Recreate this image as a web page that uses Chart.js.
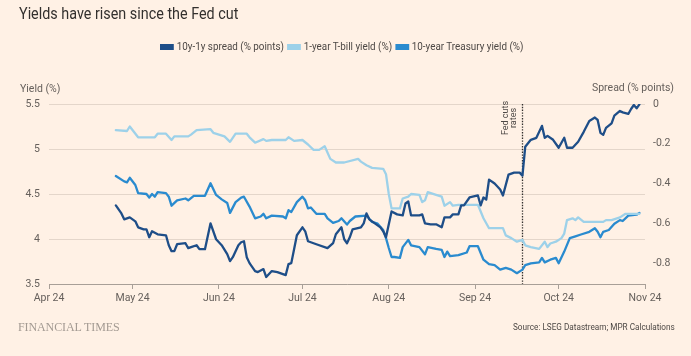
<!DOCTYPE html>
<html><head><meta charset="utf-8">
<script src="https://cdn.jsdelivr.net/npm/chart.js@4.4.1/dist/chart.umd.min.js"></script>
<style>
html,body{margin:0;padding:0;background:#fff1e5;width:691px;height:356px;overflow:hidden;}
body{position:relative;font-family:'Roboto',sans-serif;}
#c{position:absolute;left:0;top:0;}
.t{position:absolute;white-space:nowrap;line-height:1;}
#title{left:19px;top:5px;font-size:17px;color:#33302e;transform:scaleX(0.845);transform-origin:0 0;}
#legend{position:absolute;left:160px;top:42px;font-size:10px;color:#4d4845;display:flex;align-items:center;white-space:nowrap;line-height:1;transform:scaleX(0.985);transform-origin:0 0;}
.li{display:flex;align-items:center;margin-right:3px;}
.sw{display:inline-block;width:14px;height:6px;margin-right:3px;}
#yl{left:20px;top:84px;font-size:10.5px;color:#66605c;}
#yr{right:17px;top:83px;font-size:10.5px;color:#66605c;}
#ft{left:18px;top:321px;font-size:12px;color:#a39a92;font-family:'Liberation Serif','DejaVu Serif',serif;letter-spacing:-0.1px;}
#src{right:16px;top:323px;font-size:9px;color:#4d4845;transform:scaleX(0.91);transform-origin:100% 0;}
</style></head>
<body>
<canvas id="c" width="691" height="356"></canvas>
<div class="t" id="title">Yields have risen since the Fed cut</div>
<div id="legend"></div>
<div class="t" id="yl">Yield (%)</div>
<div class="t" id="yr">Spread (% points)</div>
<div class="t" id="ft">FINANCIAL TIMES</div>
<div class="t" id="src">Source: LSEG Datastream; MPR Calculations</div>
<script>
// x values are days since 1 April 2024
const monthTickDays = [0,30,61,91,122,153,183,214];
const monthLabels = ['Apr 24','May 24','Jun 24','Jul 24','Aug 24','Sep 24','Oct 24','Nov 24'];
const yieldTicks = [3.5,4,4.5,5,5.5];
const spreadTicks = [0,-0.2,-0.4,-0.6,-0.8];
const fedCutDay = 170; // 18 Sep 2024

const seriesNames = ['10y-1y spread (% points)','1-year T-bill yield (%)','10-year Treasury yield (%)'];

const spreadDays = [24,26,27,29,30,31,32,34,35,36,37,39,42,43,44,45,46,49,50,51,53,54,56,58,60,62,64,65,66,68,69,70,71,72,74,75,77,78,80,82,85,86,87,88,89,91,92,93,96,100,102,103,105,106,107,108,109,112,113,114,115,117,119,120,121,123,125,127,128,129,130,133,134,135,137,139,141,142,144,145,147,148,149,151,154,155,156,157,158,160,162,163,165,167,169,170,171,173,175,177,178,179,181,183,185,186,188,190,192,194,196,197,198,199,200,202,203,205,206,208,209,210,211,212];
const spreadVals = [-0.51,-0.55,-0.58,-0.57,-0.58,-0.59,-0.62,-0.63,-0.63,-0.67,-0.64,-0.655,-0.66,-0.71,-0.74,-0.74,-0.705,-0.70,-0.725,-0.72,-0.71,-0.73,-0.73,-0.60,-0.68,-0.71,-0.755,-0.79,-0.77,-0.71,-0.695,-0.69,-0.77,-0.80,-0.84,-0.845,-0.83,-0.87,-0.84,-0.845,-0.86,-0.805,-0.80,-0.73,-0.66,-0.62,-0.64,-0.69,-0.705,-0.725,-0.70,-0.655,-0.62,-0.68,-0.70,-0.67,-0.63,-0.62,-0.60,-0.55,-0.58,-0.60,-0.62,-0.64,-0.67,-0.54,-0.555,-0.56,-0.50,-0.49,-0.56,-0.56,-0.555,-0.60,-0.605,-0.605,-0.62,-0.57,-0.57,-0.555,-0.555,-0.51,-0.51,-0.47,-0.46,-0.51,-0.47,-0.48,-0.38,-0.40,-0.43,-0.46,-0.355,-0.345,-0.345,-0.36,-0.215,-0.18,-0.17,-0.11,-0.17,-0.16,-0.18,-0.22,-0.17,-0.22,-0.22,-0.19,-0.14,-0.085,-0.068,-0.08,-0.145,-0.155,-0.12,-0.097,-0.058,-0.035,-0.042,-0.05,-0.025,-0.005,-0.022,-0.002];

const billDays = [24,28,29,32,36,38,39,42,44,45,50,51,53,58,59,63,65,67,71,72,74,77,78,80,85,86,88,91,93,95,97,99,101,103,106,111,112,114,116,120,121,122,123,126,127,129,130,133,134,135,136,139,141,142,144,145,147,154,156,158,160,163,164,166,168,170,171,173,176,178,179,180,182,184,185,186,188,189,190,192,196,199,200,202,205,207,209,212];
const billVals = [5.21,5.20,5.25,5.13,5.13,5.13,5.17,5.17,5.10,5.14,5.14,5.16,5.21,5.22,5.18,5.14,5.08,5.17,5.17,5.13,5.07,5.11,5.09,5.10,5.10,5.13,5.09,5.10,5.05,4.99,4.99,5.03,4.89,4.85,4.85,4.89,4.86,4.82,4.79,4.78,4.72,4.50,4.34,4.34,4.45,4.47,4.50,4.49,4.41,4.43,4.52,4.49,4.47,4.37,4.41,4.37,4.38,4.38,4.23,4.12,4.12,4.12,4.04,4.01,3.97,3.99,3.93,3.91,3.89,3.97,3.91,3.95,3.97,4.01,4.06,4.21,4.23,4.21,4.24,4.19,4.19,4.19,4.21,4.21,4.24,4.28,4.28,4.28];

const tsyDays = [24,27,28,29,31,32,35,36,37,38,39,42,43,44,46,49,50,52,56,58,60,62,64,65,67,69,70,72,74,76,77,78,80,84,85,86,87,89,91,92,93,94,96,99,100,102,104,105,107,108,110,114,116,118,120,121,122,123,124,126,127,129,130,133,135,136,139,141,142,143,144,147,150,151,154,156,158,160,162,164,166,168,170,171,173,176,177,178,180,182,183,185,187,189,191,194,196,197,198,199,201,203,205,206,208,211,212];
const tsyVals = [4.70,4.64,4.63,4.68,4.60,4.51,4.50,4.46,4.50,4.47,4.52,4.51,4.47,4.37,4.43,4.45,4.43,4.48,4.48,4.62,4.49,4.44,4.40,4.29,4.41,4.46,4.47,4.36,4.23,4.25,4.28,4.23,4.26,4.25,4.23,4.32,4.30,4.41,4.47,4.43,4.34,4.35,4.28,4.28,4.23,4.18,4.20,4.23,4.16,4.20,4.25,4.26,4.19,4.17,4.10,4.01,3.90,3.80,3.80,3.79,3.91,3.99,3.93,3.91,3.83,3.91,3.89,3.88,3.80,3.86,3.81,3.82,3.85,3.92,3.92,3.77,3.72,3.71,3.66,3.68,3.66,3.62,3.66,3.71,3.73,3.74,3.79,3.74,3.77,3.79,3.73,3.86,4.01,4.03,4.05,4.08,4.12,4.08,4.02,4.08,4.10,4.17,4.21,4.20,4.26,4.27,4.29];

const colors = ['#1e4e88','#9dd1e9','#2a8bcf'];
const FONT = "Roboto, sans-serif";

// HTML legend
const lg = document.getElementById('legend');
seriesNames.forEach((n,i)=>{
  const d=document.createElement('span'); d.className='li';
  d.innerHTML='<span class="sw" style="background:'+colors[i]+'"></span>'+n;
  lg.appendChild(d);
});

const pts = (xs,ys)=>xs.map((x,i)=>({x:x,y:ys[i]}));

const fedLine = {
  id:'fedLine',
  beforeDatasetsDraw(chart){
    const {ctx, chartArea:{top,bottom}, scales:{x}} = chart;
    const px = Math.round(x.getPixelForValue(fedCutDay))+0.5;
    ctx.save();
    ctx.strokeStyle='#33302e'; ctx.lineWidth=1.3; ctx.setLineDash([1.4,1.4]);
    ctx.beginPath(); ctx.moveTo(px, top); ctx.lineTo(px, bottom); ctx.stroke();
    ctx.setLineDash([]);
    ctx.translate(px, top+14);
    ctx.rotate(-Math.PI/2);
    ctx.fillStyle='#4d4845'; ctx.font='9px '+FONT;
    ctx.textAlign='center'; ctx.textBaseline='middle';
    ctx.fillText('Fed cuts', 0, -17);
    ctx.fillText('rates', 0, -8.5);
    ctx.restore();
  }
};

const ds = (label,data,color,axis)=>({label,data,borderColor:color,backgroundColor:color,borderWidth:2.3,pointRadius:0,tension:0,yAxisID:axis,borderJoinStyle:'round',borderCapStyle:'round'});

new Chart(document.getElementById('c'),{
  type:'line',
  data:{datasets:[
    ds(seriesNames[0],pts(spreadDays,spreadVals),colors[0],'y2'),
    ds(seriesNames[1],pts(billDays,billVals),colors[1],'y'),
    ds(seriesNames[2],pts(tsyDays,tsyVals),colors[2],'y')
  ]},
  options:{
    responsive:false, animation:false, devicePixelRatio:1,
    layout:{padding:{top:104,left:0,right:0,bottom:0}},
    plugins:{legend:{display:false},tooltip:{enabled:false},title:{display:false}},
    scales:{
      x:{type:'linear',min:0,max:214,
        afterBuildTicks:s=>{s.ticks=monthTickDays.map(v=>({value:v}));},
        afterFit:s=>{s.height=72;},
        ticks:{autoSkip:false,maxRotation:0,padding:3,color:'#66605c',font:{family:FONT,size:10.5},
          callback:v=>monthLabels[monthTickDays.indexOf(v)]},
        grid:{drawOnChartArea:false,drawTicks:true,tickLength:5,color:'#a89f97',lineWidth:1},
        border:{display:true,color:'#a89f97',width:1}
      },
      y:{position:'left',min:3.5,max:5.5,
        afterBuildTicks:s=>{s.ticks=yieldTicks.map(v=>({value:v}));},
        afterFit:s=>{s.width=49;},
        ticks:{padding:9,color:'#66605c',font:{family:FONT,size:10.5},callback:v=>String(v)},
        grid:{drawTicks:false,color:'#e4d6ca',lineWidth:1},
        border:{display:false}
      },
      y2:{position:'right',min:-0.905,max:0,
        afterBuildTicks:s=>{s.ticks=spreadTicks.map(v=>({value:v}));},
        afterFit:s=>{s.width=46;},
        ticks:{padding:8,color:'#66605c',font:{family:FONT,size:10.5},callback:v=>String(v)},
        grid:{drawOnChartArea:false,drawTicks:false},
        border:{display:false}
      }
    }
  },
  plugins:[fedLine]
});
</script>
</body></html>
